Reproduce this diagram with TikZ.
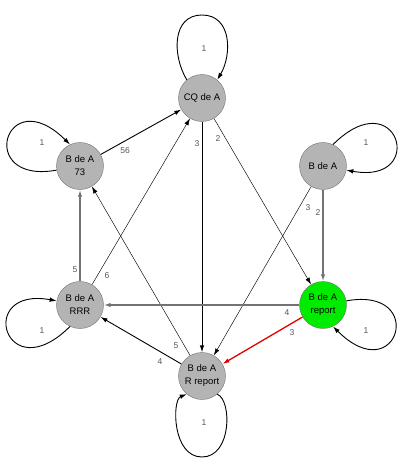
\documentclass[tikz,border=0pt]{standalone}
\usepackage{fontspec}
\setmainfont{Liberation Sans}
\usetikzlibrary{arrows.meta}
\definecolor{nodegray}{RGB}{180,180,180}
\definecolor{nodegreen}{RGB}{0,235,0}
\definecolor{edgegray}{RGB}{115,115,115}
\definecolor{lblgray}{RGB}{85,85,85}
\definecolor{edgered}{RGB}{225,0,0}
\begin{document}
\begin{tikzpicture}[x=1pt,y=-1pt,
  state/.style={circle,draw=black!55,line width=0.4pt,fill=nodegray,minimum size=47pt,inner sep=0pt,align=center,font=\fontsize{9.5}{13}\selectfont},
  tip/.style={-{Latex[length=7pt,width=4.5pt]}},
  bold/.style={tip,line width=0.9pt},
  fine/.style={tip,line width=0.45pt},
  grayedge/.style={tip,line width=1.4pt,draw=edgegray},
  rededge/.style={tip,line width=1.3pt,draw=edgered},
  lbl/.style={text=lblgray,font=\fontsize{8.5}{9}\selectfont,inner sep=0pt}]
\useasboundingbox (0,0) rectangle (402,468);
\node[state] (cq) at (202,98) {CQ de A};
\node[state] (b73) at (80,166) {B de A\\73};
\node[state] (br) at (323,166) {B de A};
\node[state] (rrr) at (80,305) {B de A\\RRR};
\node[state,fill=nodegreen] (rep) at (323,305) {B de A\\report};
\node[state] (rr) at (202,376) {B de A\\R report};
% self loops
\coordinate (cqtop) at (202,15);
\coordinate (rrbot) at (202,457);
\draw[bold] (cq.130) .. controls (172,55) and (172,15) .. (cqtop) .. controls (232,15) and (232,55) .. (cq.50);
\draw[bold] (b73.190) .. controls (-25,185) and (5,80) .. (b73.115);
\draw[bold] (br.65) .. controls (398,80) and (428,185) .. (br.350);
\draw[bold] (rrr.245) .. controls (5,391) and (-25,286) .. (rrr.170);
\draw[bold] (rep.10) .. controls (428,286) and (398,391) .. (rep.295);
\draw[bold] (rr.310) .. controls (232,400) and (232,457) .. (rrbot) .. controls (172,457) and (172,400) .. (rr.230);
% edges
\draw[bold] (b73) -- (cq);
\draw[fine] (rrr) -- (cq);
\draw[bold] (cq) -- (rr);
\draw[fine] (cq) -- (rep);
\draw[grayedge] (br) -- (rep);
\draw[fine] (br) -- (rr);
\draw[grayedge] (rrr) -- (b73);
\draw[fine] (rr) -- (b73);
\draw[grayedge] (rep) -- (rrr);
\draw[bold] (rr) -- (rrr);
\draw[rededge] (rep) -- (rr);
% labels
\node[lbl] (l1) at (204,49) {1};
\node[lbl] (l2) at (42,143) {1};
\node[lbl] (l3) at (366,143) {1};
\node[lbl] (l4) at (42,331) {1};
\node[lbl] (l5) at (366,331) {1};
\node[lbl] (l6) at (204,423) {1};
\node[lbl] (l7) at (125,151) {56};
\node[lbl] (l8) at (197,144) {3};
\node[lbl] (l9) at (218,139) {2};
\node[lbl] (l10) at (308,208) {3};
\node[lbl] (l11) at (318,213) {2};
\node[lbl] (l12) at (75,270) {5};
\node[lbl] (l13) at (107,276) {6};
\node[lbl] (l14) at (287,313) {4};
\node[lbl] (l15) at (292,333) {3};
\node[lbl] (l16) at (176,346) {5};
\node[lbl] (l17) at (160,362) {4};
\end{tikzpicture}
\end{document}
